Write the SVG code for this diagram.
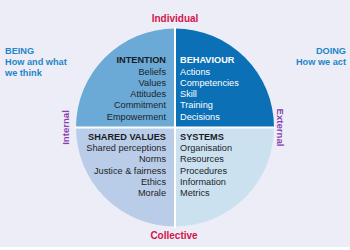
<svg xmlns="http://www.w3.org/2000/svg" width="350" height="250" viewBox="0 0 350 250">
  <style>
    text { font-family: "Liberation Sans", Arial, sans-serif; }
    .axis { font-size: 10px; font-weight: bold; fill: #d4144a; }
    .dim { font-size: 9.6px; font-weight: bold; fill: #8a3fb0; }
    .side { font-size: 9.2px; font-weight: bold; fill: #1f86c8; }
    .head { font-size: 9.2px; font-weight: bold; fill: #1a1a24; }
    .item { font-size: 9.2px; fill: #1e1e28; }
    .headw { font-size: 9.2px; font-weight: bold; fill: #ffffff; }
    .itemw { font-size: 9.2px; fill: #ffffff; }
    .gap { stroke: #ffffff; stroke-width: 2; }
  </style>
  <rect x="0" y="0" width="350" height="250" fill="#ffffff"/>
  <rect x="0" y="0" width="350" height="247" fill="#ecedf7"/>

  <g id="intention">
    <path d="M175,127.5 L76,127.5 A99,99 0 0 1 175,28.5 Z" fill="#6baad6"/>
    <text class="head" x="166" y="63" text-anchor="end">INTENTION</text>
    <text class="item" x="166" y="75" text-anchor="end">Beliefs</text>
    <text class="item" x="166" y="86" text-anchor="end">Values</text>
    <text class="item" x="166" y="97.2" text-anchor="end">Attitudes</text>
    <text class="item" x="166" y="108.4" text-anchor="end">Commitment</text>
    <text class="item" x="166" y="119.6" text-anchor="end">Empowerment</text>
  </g>

  <g id="behaviour">
    <path d="M175,127.5 L175,28.5 A99,99 0 0 1 274,127.5 Z" fill="#0b70b6"/>
    <text class="headw" x="180" y="63">BEHAVIOUR</text>
    <text class="itemw" x="180" y="75">Actions</text>
    <text class="itemw" x="180" y="86">Competencies</text>
    <text class="itemw" x="180" y="97.2">Skill</text>
    <text class="itemw" x="180" y="108.4">Training</text>
    <text class="itemw" x="180" y="119.6">Decisions</text>
  </g>

  <g id="shared-values">
    <path d="M175,127.5 L175,226.5 A99,99 0 0 1 76,127.5 Z" fill="#bacde8"/>
    <text class="head" x="166" y="140" text-anchor="end">SHARED VALUES</text>
    <text class="item" x="166" y="151.3" text-anchor="end">Shared perceptions</text>
    <text class="item" x="166" y="162.4" text-anchor="end">Norms</text>
    <text class="item" x="166" y="173.5" text-anchor="end">Justice &amp; fairness</text>
    <text class="item" x="166" y="184.6" text-anchor="end">Ethics</text>
    <text class="item" x="166" y="195.8" text-anchor="end">Morale</text>
  </g>

  <g id="systems">
    <path d="M175,127.5 L274,127.5 A99,99 0 0 1 175,226.5 Z" fill="#cbe1f0"/>
    <text class="head" x="180" y="140">SYSTEMS</text>
    <text class="item" x="180" y="151.3">Organisation</text>
    <text class="item" x="180" y="162.4">Resources</text>
    <text class="item" x="180" y="173.5">Procedures</text>
    <text class="item" x="180" y="184.6">Information</text>
    <text class="item" x="180" y="195.8">Metrics</text>
  </g>

  <g id="dividers">
    <line class="gap" x1="175" y1="27" x2="175" y2="228"/>
    <line class="gap" x1="75" y1="127.5" x2="275" y2="127.5"/>
  </g>

  <g id="labels">
    <text class="axis" x="175" y="22" text-anchor="middle">Individual</text>
    <text class="axis" x="174" y="239" text-anchor="middle">Collective</text>
    <text class="dim" transform="translate(68.5,127.5) rotate(-90)" text-anchor="middle">Internal</text>
    <text class="dim" transform="translate(277,127.5) rotate(90)" text-anchor="middle">External</text>
    <text class="side" x="5" y="54">BEING</text>
    <text class="side" x="5" y="65">How and what</text>
    <text class="side" x="5" y="75.8">we think</text>
    <text class="side" x="346" y="54" text-anchor="end">DOING</text>
    <text class="side" x="346" y="65" text-anchor="end">How we act</text>
  </g>
</svg>
